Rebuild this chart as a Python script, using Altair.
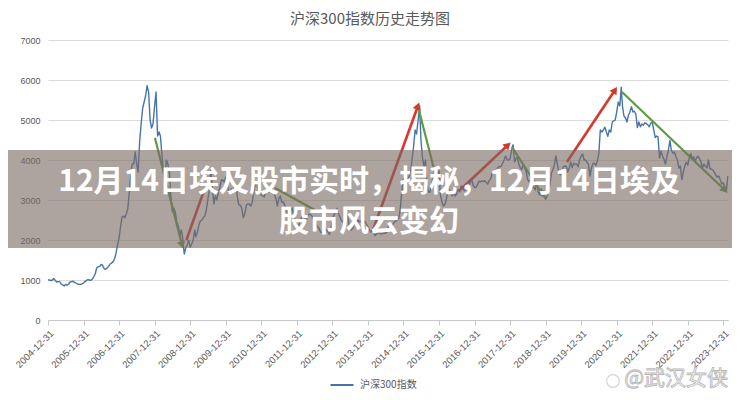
import calendar
import math
import altair as alt
import pandas as pd

# ---------------- data (semi-monthly: 15th and month end) ----------------
start_date = "2004-12-31"
start_value = 1000

v2005 = [1000, 983, 1000, 1040, 990, 950, 960, 960, 900, 880, 850, 890,
         870, 900, 950, 960, 970, 940, 920, 900, 890, 890, 900, 923]
v2006 = [960, 990, 1010, 1000, 990, 1020, 1080, 1150, 1300, 1330, 1340, 1390,
         1370, 1280, 1270, 1300, 1340, 1400, 1420, 1460, 1530, 1670, 1870, 2041]
v2007 = [2320, 2580, 2600, 2550, 2650, 2780, 3200, 3600, 3900, 3900, 4200, 3900,
         3700, 4470, 4900, 5300, 5450, 5600, 5860, 5690, 5000, 4800, 4900, 5340]
v2008 = [5700, 4600, 4700, 4600, 4150, 3700, 3500, 4000, 3900, 3700, 3100, 2700,
         2800, 2700, 2450, 2360, 2100, 2250, 2050, 1650, 1800, 1880, 1990, 1820]
v2009 = [1900, 2000, 2250, 2080, 2200, 2380, 2480, 2500, 2560, 2600, 2750, 3000,
         3250, 3780, 3300, 2900, 3100, 3000, 3200, 3300, 3500, 3500, 3450, 3575]
v2010 = [3450, 3200, 3200, 3280, 3250, 3350, 3400, 3070, 2880, 2870, 2780, 2560,
         2650, 2870, 2900, 2900, 2850, 2940, 3200, 3400, 3450, 3200, 3250, 3128]
v2011 = [3100, 3080, 3200, 3240, 3200, 3250, 3330, 3200, 3150, 3030, 2850, 3040,
         3100, 2940, 2950, 2860, 2800, 2620, 2650, 2730, 2800, 2580, 2400, 2345]
v2012 = [2300, 2460, 2550, 2630, 2600, 2450, 2550, 2630, 2650, 2610, 2550, 2460,
         2420, 2330, 2300, 2200, 2180, 2290, 2300, 2250, 2200, 2140, 2250, 2522]
v2013 = [2620, 2690, 2790, 2670, 2600, 2500, 2450, 2480, 2600, 2640, 2450, 2290,
         2250, 2300, 2400, 2410, 2500, 2450, 2480, 2410, 2400, 2470, 2400, 2330]
v2014 = [2250, 2200, 2260, 2180, 2110, 2150, 2200, 2160, 2150, 2160, 2170, 2170,
         2200, 2350, 2380, 2330, 2400, 2450, 2470, 2510, 2550, 2810, 3250, 3533]
v2015 = [3500, 3430, 3530, 3590, 3700, 4050, 4350, 4750, 4650, 5000, 5350, 4470,
         4050, 3820, 4000, 3370, 3200, 3200, 3400, 3530, 3700, 3560, 3650, 3730]
v2016 = [3120, 2950, 2850, 2880, 3000, 3220, 3270, 3160, 3100, 3170, 3100, 3150,
         3270, 3200, 3350, 3320, 3230, 3250, 3320, 3330, 3420, 3540, 3380, 3310]
v2017 = [3320, 3390, 3470, 3450, 3480, 3460, 3480, 3440, 3400, 3490, 3530, 3670,
         3690, 3740, 3750, 3820, 3830, 3840, 3920, 4000, 4100, 4010, 4000, 4030]
v2018 = [4250, 4380, 3950, 4020, 4080, 3900, 3800, 3760, 3900, 3800, 3700, 3510,
         3450, 3520, 3300, 3330, 3250, 3440, 3200, 3150, 3280, 3170, 3150, 3010]
v2019 = [3100, 3200, 3400, 3670, 3750, 3870, 4100, 3910, 3700, 3630, 3650, 3830,
         3850, 3840, 3700, 3800, 3950, 3810, 3920, 3890, 3900, 3830, 4000, 4100]
v2020 = [4150, 4000, 4000, 3940, 3900, 3600, 3800, 3910, 3920, 3870, 3980, 4160,
         4750, 4700, 4750, 4820, 4700, 4590, 4750, 4700, 4950, 4980, 5000, 5210]
v2021 = [5450, 5350, 5820, 5340, 5100, 5050, 4950, 5120, 5200, 5330, 5200, 5220,
         5150, 4810, 4950, 4830, 4900, 4870, 4930, 4910, 4880, 4830, 4920, 4940]
v2022 = [4750, 4560, 4600, 4580, 4050, 4220, 4100, 4020, 3900, 4090, 4250, 4490,
         4250, 4170, 4200, 4080, 4000, 3800, 3850, 3510, 3700, 3850, 3950, 3870]
v2023 = [4050, 4160, 4030, 4080, 3980, 4050, 4100, 4030, 3950, 3800, 3900, 3840,
         3800, 4000, 3780, 3770, 3750, 3690, 3620, 3570, 3600, 3500, 3400, 3430]
v2024 = [3300, 3200, 3600]

yearly = {2005: v2005, 2006: v2006, 2007: v2007, 2008: v2008, 2009: v2009,
          2010: v2010, 2011: v2011, 2012: v2012, 2013: v2013, 2014: v2014,
          2015: v2015, 2016: v2016, 2017: v2017, 2018: v2018, 2019: v2019,
          2020: v2020, 2021: v2021, 2022: v2022, 2023: v2023, 2024: v2024}

series_name = "沪深300指数"

dates = [start_date]
values = [start_value]
for year, vals in yearly.items():
    for i, v in enumerate(vals):
        m = i // 2 + 1
        d = 15 if i % 2 == 0 else calendar.monthrange(year, m)[1]
        dates.append(f"{year}-{m:02d}-{d:02d}")
        values.append(v)

line_df = pd.DataFrame({"date": dates, "value": values, "series": series_name})

# trend arrows (start/end in data coordinates)
arrow_kind = ["up", "up", "up", "up", "down", "down", "down", "down", "down"]
arrow_start_date = ["2008-11-22", "2014-02-21", "2016-08-04", "2019-08-07",
                    "2008-01-04", "2015-06-08", "2018-01-19", "2021-02-23", "2011-05-21"]
arrow_start_val = [2000, 2250, 3250, 3950, 4550, 5250, 4325, 5700, 3300]
arrow_end_date = ["2009-05-24", "2015-05-29", "2017-12-09", "2020-12-13",
                  "2008-10-08", "2015-12-09", "2018-12-03", "2024-01-15", "2012-07-04"]
arrow_end_val = [3250, 5350, 4375, 5750, 1875, 3500, 3125, 3250, 2750]
arrow_head = [False, True, True, True, True, True, True, True, False]

tick_dates = [f"{y}-12-31" for y in range(2004, 2024)]
y_ticks = [0, 1000, 2000, 3000, 4000, 5000, 6000, 7000]

chart_title = "沪深300指数历史走势图"
banner_line1 = "12月14日埃及股市实时，揭秘，12月14日埃及"
banner_line2 = "股市风云变幻"
watermark = "@武汉女侠"

# ---------------- layout ----------------
W, H = 680, 280
x_min = pd.Timestamp("2004-12-31")
x_max = pd.Timestamp("2024-02-17")
y_max = 7000
span_days = (x_max - x_min).total_seconds() / 86400.0


def head_angle(d0, v0, d1, v1):
    dx = (pd.Timestamp(d1) - pd.Timestamp(d0)).total_seconds() / 86400.0 / span_days * W
    dy = -(v1 - v0) / y_max * H
    return math.degrees(math.atan2(dx, -dy)) % 360


arrows_df = pd.DataFrame({
    "kind": arrow_kind,
    "d0": arrow_start_date, "v0": arrow_start_val,
    "d1": arrow_end_date, "v1": arrow_end_val,
    "head": arrow_head,
})
arrows_df["angle"] = [head_angle(a, b, c, d) for a, b, c, d in
                      zip(arrow_start_date, arrow_start_val, arrow_end_date, arrow_end_val)]


def dt(s):
    t = pd.Timestamp(s)
    return alt.DateTime(year=t.year, month=t.month, date=t.day, utc=True)


x_scale = alt.Scale(type="utc", domain=[dt("2004-12-31"), dt("2024-02-17")])
y_scale = alt.Scale(domain=[0, 7000], nice=False, zero=True)

x_axis = alt.Axis(values=[dt(s) for s in tick_dates],
                  labelExpr="utcFormat(datum.value, '%Y-%m-%d')",
                  labelAngle=-45, grid=False, domainColor="#c8c8c8", tickColor="#c8c8c8",
                  tickSize=5, labelColor="#595959", labelFontSize=9.5, labelFont="Liberation Sans",
                  labelPadding=3, labelOverlap=False, labelBound=False, labelFlush=False, title=None)
y_axis = alt.Axis(values=y_ticks, labelExpr="format(datum.value, 'd')", grid=True,
                  gridColor="#dcdcdc", domain=False, ticks=False, labelPadding=8,
                  labelColor="#595959", labelFontSize=9, labelFont="Liberation Sans", title=None)


def X(field):
    return alt.X(field, scale=x_scale, axis=x_axis)


def Y(field):
    return alt.Y(field, scale=y_scale, axis=y_axis)


line = alt.Chart(line_df).mark_line(strokeWidth=1.4, strokeJoin="round").encode(
    x=X("date:T"),
    y=Y("value:Q"),
    color=alt.Color("series:N", scale=alt.Scale(range=["#4774a8"]),
                    legend=alt.Legend(orient="none", legendX=281, legendY=332, title=None,
                                      symbolType="stroke", symbolSize=530, symbolStrokeWidth=2,
                                      labelFontSize=10, labelColor="#595959",
                                      labelFont="Noto Sans CJK SC", padding=0, labelOffset=5)),
)

arrow_layers = []
for kind, col, sw in [("up", "#d8372c", 2.6), ("down", "#5e9c43", 2.2)]:
    sub = arrows_df[arrows_df["kind"] == kind]
    arrow_layers.append(alt.Chart(sub).mark_rule(color=col, strokeWidth=sw).encode(
        x=X("d0:T"), x2="d1:T", y=Y("v0:Q"), y2="v1:Q"))
    arrow_layers.append(alt.Chart(sub[sub["head"]]).mark_point(
        shape="triangle-up", filled=True, color=col, opacity=1, size=70).encode(
        x=X("d1:T"), y=Y("v1:Q"), angle=alt.Angle("angle:Q", scale=None)))

one = pd.DataFrame({"k": [0]})
band = alt.Chart(one).mark_rect(color="#7a6a64", opacity=0.62).encode(
    x=alt.value(-40), x2=alt.value(684), y=alt.value(110), y2=alt.value(208))

text_style = dict(font="Noto Sans CJK SC", fontSize=30, fontWeight="bold", color="#ffffff",
                  align="center", baseline="middle")
banner1 = alt.Chart(pd.DataFrame({"text": [banner_line1]})).mark_text(**text_style).encode(
    x=alt.value(321), y=alt.value(142), text="text:N")
banner2 = alt.Chart(pd.DataFrame({"text": [banner_line2]})).mark_text(**text_style).encode(
    x=alt.value(321), y=alt.value(182), text="text:N")

title = alt.Chart(pd.DataFrame({"text": [chart_title]})).mark_text(
    font="Noto Sans CJK SC", fontSize=15, color="#595959", align="center",
    baseline="middle").encode(x=alt.value(322), y=alt.value(-21), text="text:N")

wm = alt.Chart(pd.DataFrame({"text": [watermark]})).mark_text(
    font="Noto Sans CJK SC", fontSize=21, fill="#ffffff", stroke="#b9b9b9", strokeWidth=0.9,
    align="right", baseline="middle").encode(x=alt.value(680), y=alt.value(339), text="text:N")
logo = alt.Chart(one).mark_point(shape="circle", filled=False, color="#c4c4c4",
                                 strokeWidth=1.2, size=160).encode(
    x=alt.value(565), y=alt.value(341))

chart = alt.layer(line, *arrow_layers, band, banner1, banner2, title, wm, logo).properties(
    width=W, height=H,
    autosize=alt.AutoSizeParams(type="none"),
    padding={"left": 40, "top": 32, "right": 4, "bottom": 72},
    background="#ffffff",
).configure_view(stroke=None)

chart.save("out.html", embed_options={"renderer": "svg", "actions": False})
